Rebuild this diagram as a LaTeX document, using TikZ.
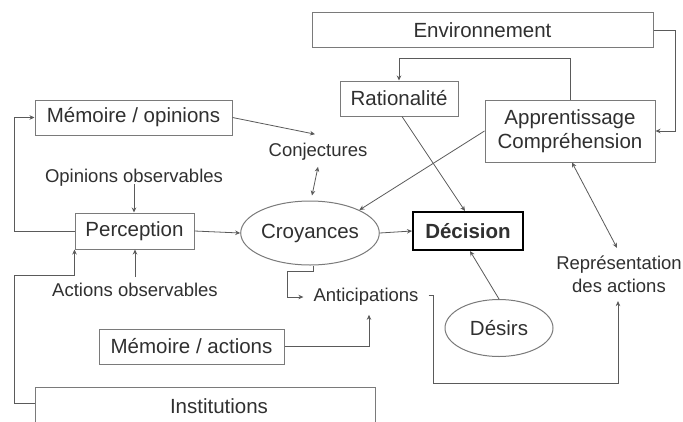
\documentclass[tikz,border=0pt]{standalone}
\usepackage{fontspec}
\setmainfont{Liberation Sans}
\usetikzlibrary{arrows.meta,shapes.geometric,calc}
\definecolor{txt}{HTML}{303030}
\definecolor{ln}{HTML}{5A5A5A}
\definecolor{bd}{HTML}{7A7A7A}
\begin{document}
\begin{tikzpicture}[x=1pt,y=-1pt,
  box/.style={draw=bd,line width=1pt,fill=white,inner sep=0pt,text=txt,
    font=\fontsize{20.5}{24}\selectfont},
  ell/.style={ellipse,draw=bd,line width=1pt,fill=white,inner sep=0pt,text=txt,
    font=\fontsize{20.5}{24}\selectfont},
  lbl/.style={inner sep=0pt,text=txt,font=\fontsize{18.5}{23}\selectfont,align=center},
  conn/.style={draw=ln,line width=0.8pt},
  arr/.style={conn,-{Stealth[length=5pt,width=4.5pt]}},
  arrb/.style={conn,{Stealth[length=5pt,width=4.5pt]}-{Stealth[length=5pt,width=4.5pt]}}]
\clip (0,0) rectangle (683,421);
\fill[white] (0,0) rectangle (683,421);
% nodes
\node[box,minimum width=341,minimum height=35] (env) at (482.5,30) {Environnement};
\node[box,minimum width=118,minimum height=35] (rat) at (399,98.5) {Rationalité};
\node[box,minimum width=170,minimum height=62,align=center] (app) at (570,131) {Apprentissage\\Compréhension};
\node[box,minimum width=197,minimum height=35] (memo) at (133.5,117.5) {Mémoire / opinions};
\node[lbl] (conj) at (318,152) {Conjectures};
\node[lbl] (opobs) at (134,178) {Opinions observables};
\node[box,minimum width=119,minimum height=36] (perc) at (134.5,231) {Perception};
\node[lbl] (actobs) at (135,290) {Actions observables};
\node[ell,minimum width=124,minimum height=64] (croy) at (310,233) {Croyances};
\node[box,draw=black,line width=2pt,minimum width=110,minimum height=38,font=\fontsize{20.5}{24}\selectfont\bfseries] (dec) at (468,231) {Décision};
\node[lbl] (antic) at (366,297) {Anticipations};
\node[ell,minimum width=108,minimum height=57] (des) at (499,328) {Désirs};
\node[lbl] (repr) at (619,274.5) {Représentation\\des actions};
\node[box,minimum width=185,minimum height=35] (mema) at (191.5,346.5) {Mémoire / actions};
\node[box,minimum width=340,minimum height=38] (inst) at (205,406) {\hspace*{28pt}Institutions};
% connectors
\draw[arr] (memo.east) -- ([shift={(-3,-9)}]conj.north);
\draw[arrb] ([shift={(0,6)}]conj.south) -- ([shift={(2,-5)}]croy.north);
\draw[arr] (perc.west) -- ++(-60,0) |- (memo.west);
\draw[arr] ([shift={(0,-3)}]opobs.south) -- (opobs.south |- perc.north);
\draw[arr] ([shift={(0,-6)}]actobs.north) -- (actobs.north |- perc.south);
\draw[arr] (inst.west) ++(0,-3) -- ++(-20,0) |- ([shift={(0,26)}]perc.south west) -- (perc.south west);
\draw[arr] (perc.east) -- (croy.west);
\draw[arr] (croy.east) -- (dec.west);
\draw[arr] ([shift={(3,0)}]croy.south) -- ++(0,6) -- ++(-26,0) |- ([shift={(-10,0)}]antic.west);
\draw[arr] (mema.east) -| ([shift={(3,9)}]antic.south);
\draw[arr] ([shift={(10,-2)}]antic.east) -- ++(5,0) -- ++(0,88) -| ([shift={(-1,8)}]repr.south);
\draw[arr] (des.north) -- ([shift={(2,0)}]dec.south);
\draw[arr] ([shift={(3,0)}]rat.south) -- ([shift={(-3,0)}]dec.north);
\draw[arr] (app.west) -- (croy.north east);
\draw[arr] (app.north) -- ++(0,-41) -| (rat.north);
\draw[arr] (env.east) -- ++(22,0) |- (app.east);
\draw[arrb] ([shift={(2,0)}]app.south) -- ([shift={(-2,-8)}]repr.north);
\end{tikzpicture}
\end{document}
